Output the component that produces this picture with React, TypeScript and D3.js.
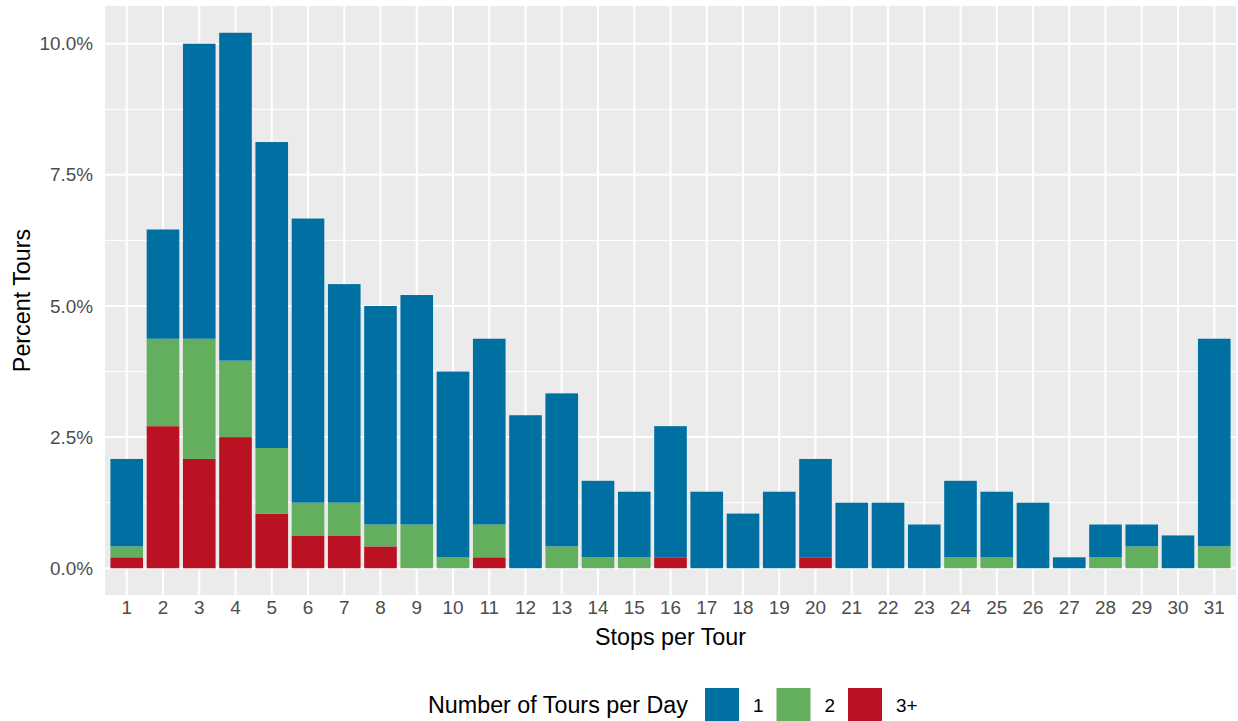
import React from "react";
import * as d3 from "d3";

// Tour counts by number of stops, split by how many tours the vehicle ran that day
const stops: string[] = Array.from({ length: 31 }, (_, i) => String(i + 1));
const toursOne: number[] = [8, 10, 27, 30, 28, 26, 20, 20, 21, 17, 17, 14, 14, 7, 6, 12, 7, 5, 7, 9, 6, 6, 4, 7, 6, 6, 1, 3, 2, 3, 19];
const toursTwo: number[] = [1, 8, 11, 7, 6, 3, 3, 2, 4, 1, 3, 0, 2, 1, 1, 0, 0, 0, 0, 0, 0, 0, 0, 1, 1, 0, 0, 1, 2, 0, 2];
const toursThreePlus: number[] = [1, 13, 10, 12, 5, 3, 3, 2, 0, 0, 1, 0, 0, 0, 0, 1, 0, 0, 0, 1, 0, 0, 0, 0, 0, 0, 0, 0, 0, 0, 0];
const yTicks: number[] = [0, 2.5, 5, 7.5, 10];
const yMinor: number[] = [1.25, 3.75, 6.25, 8.75];
const seriesKeys = ["1", "2", "3+"];
const seriesColors: Record<string, string> = { "1": "#0070A3", "2": "#63AF5E", "3+": "#BA1223" };

const W = 1238;
const H = 721;
const panel = { left: 105, right: 1236, top: 6, bottom: 595 };
const FONT = "'Liberation Sans', Arial, Helvetica, sans-serif";
const TICK_SIZE = 18.9;
const TITLE_SIZE = 23.3;

export default function App() {
  const total = d3.sum(toursOne) + d3.sum(toursTwo) + d3.sum(toursThreePlus);
  const rows = stops.map((s, i) => ({
    stop: s,
    "3+": (toursThreePlus[i] / total) * 100,
    "2": (toursTwo[i] / total) * 100,
    "1": (toursOne[i] / total) * 100,
  }));
  // stack order: 3+ at the bottom, then 2, then 1 on top
  const stacked = d3.stack<any>().keys(["3+", "2", "1"])(rows);
  const maxVal = d3.max(rows, (r) => r["1"] + r["2"] + r["3+"]) as number;

  const x = d3
    .scaleBand<string>()
    .domain(stops)
    .range([panel.left, panel.right])
    .paddingInner(0.1)
    .paddingOuter(0.15);
  const y = d3
    .scaleLinear()
    .domain([-0.05 * maxVal, maxVal * 1.05])
    .range([panel.bottom, panel.top]);

  const fmt = (v: number) => v.toFixed(1) + "%";

  const legendY = 705;
  const keySize = 34;

  return (
    <svg width={W} height={H} style={{ display: "block", position: "absolute", left: 0, top: 0 }} fontFamily={FONT}>
      <rect x={0} y={0} width={W} height={H} fill="#FFFFFF" />
      <rect
        x={panel.left}
        y={panel.top}
        width={panel.right - panel.left}
        height={panel.bottom - panel.top}
        fill="#EBEBEB"
      />
      {yMinor.map((t) => (
        <line key={"mn" + t} x1={panel.left} x2={panel.right} y1={y(t)} y2={y(t)} stroke="#FFFFFF" strokeWidth={1} />
      ))}
      {yTicks.map((t) => (
        <line key={"mj" + t} x1={panel.left} x2={panel.right} y1={y(t)} y2={y(t)} stroke="#FFFFFF" strokeWidth={2} />
      ))}
      {stops.map((s) => {
        const cx = (x(s) as number) + x.bandwidth() / 2;
        return <line key={"vx" + s} x1={cx} x2={cx} y1={panel.top} y2={panel.bottom} stroke="#FFFFFF" strokeWidth={2} />;
      })}
      {stacked.map((layer) => (
        <g key={layer.key} fill={seriesColors[layer.key]}>
          {layer.map((d: any, i: number) =>
            d[1] - d[0] > 0 ? (
              <rect
                key={i}
                x={x(d.data.stop)}
                width={x.bandwidth()}
                y={y(d[1])}
                height={y(d[0]) - y(d[1])}
              />
            ) : null
          )}
        </g>
      ))}
      {yTicks.map((t) => (
        <text key={"yl" + t} x={93} y={y(t)} dy="0.35em" textAnchor="end" fontSize={TICK_SIZE} fill="#4D4D4D">
          {fmt(t)}
        </text>
      ))}
      {stops.map((s) => (
        <text
          key={"xl" + s}
          x={(x(s) as number) + x.bandwidth() / 2}
          y={607}
          dy="0.35em"
          textAnchor="middle"
          fontSize={TICK_SIZE}
          fill="#4D4D4D"
        >
          {s}
        </text>
      ))}
      <text x={(panel.left + panel.right) / 2} y={637} dy="0.35em" textAnchor="middle" fontSize={TITLE_SIZE} fill="#000000">
        Stops per Tour
      </text>
      <text
        transform={`translate(22,${(panel.top + panel.bottom) / 2}) rotate(-90)`}
        dy="0.35em"
        textAnchor="middle"
        fontSize={TITLE_SIZE}
        fill="#000000"
      >
        Percent Tours
      </text>
      <g>
        <text x={428} y={legendY} dy="0.35em" fontSize={TITLE_SIZE} fill="#000000">
          Number of Tours per Day
        </text>
        {seriesKeys.map((k, i) => {
          const kx = 705 + i * 71.5;
          return (
            <g key={"lg" + k}>
              <rect x={kx} y={legendY - keySize / 2} width={keySize} height={keySize} fill={seriesColors[k]} />
              <text x={kx + keySize + 14} y={legendY} dy="0.35em" fontSize={TICK_SIZE} fill="#000000">
                {k}
              </text>
            </g>
          );
        })}
      </g>
    </svg>
  );
}
